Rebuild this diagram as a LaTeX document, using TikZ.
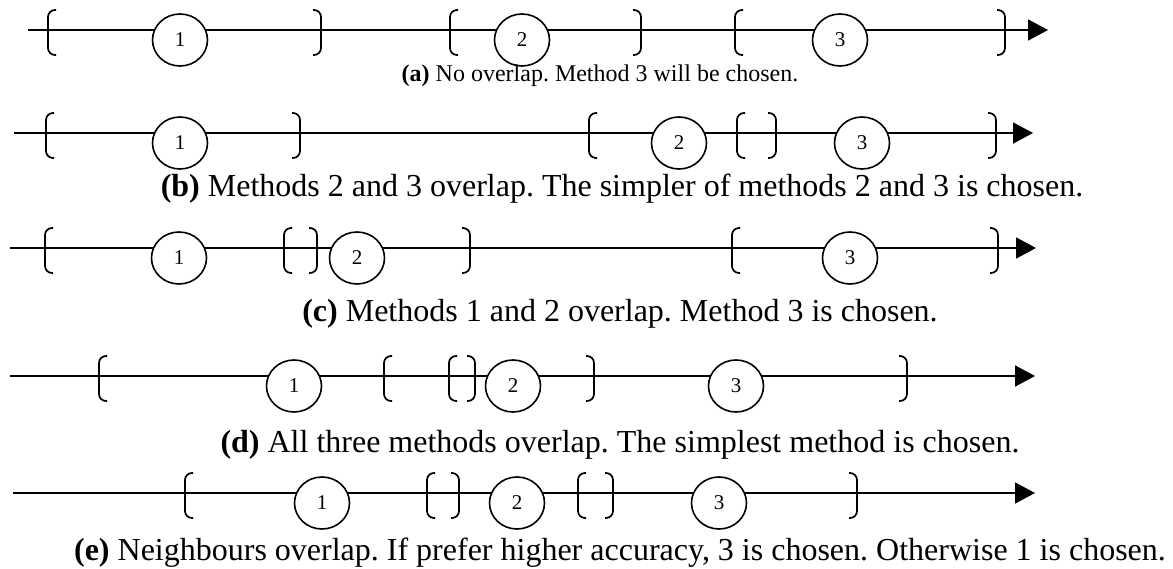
\documentclass[tikz,border=0pt]{standalone}
\usepackage{fontspec}
\setmainfont{Liberation Serif}
\usetikzlibrary{arrows.meta, shapes.geometric}
\frenchspacing

% rounded interval brackets
\tikzset{
	lb/.pic={\draw[bracket] (8,-20) -- (0,-20) -- (0,25) -- (8,25);},
	rb/.pic={\draw[bracket] (-8,-20) -- (0,-20) -- (0,25) -- (-8,25);}
}

\begin{document}
\begin{tikzpicture}[
		x=1pt, y=-1pt,
		axis/.style={line width=1.7pt, -{Triangle[length=20pt, width=21pt]}},
		bracket/.style={line width=1.7pt, rounded corners=7pt},
		method/.style={ellipse, draw, line width=1.6pt, fill=white,
			minimum width=55pt, minimum height=52pt, inner sep=0pt,
			font=\fontsize{21}{21}\selectfont},
		capt/.style={anchor=base, font=\fontsize{32}{38}\selectfont},
		capta/.style={anchor=base, font=\fontsize{24}{28}\selectfont}
		]
		\useasboundingbox (0,0) rectangle (1173,569);
		
		% (a)
		\coordinate (a0) at (28,30);
		\coordinate (a9) at (1048,30);
		\draw[axis] (a0) -- (a9);
		\pic at (48,30) {lb}; \pic at (321,30) {rb};
		\pic at (450,30) {lb}; \pic at (641,30) {rb};
		\pic at (735,30) {lb}; \pic at (1005,30) {rb};
		\node[method] (a1) at (180,40) {1};
		\node[method] (a2) at (522,40) {2};
		\node[method] (a3) at (840,40) {3};
		\node[capta] (capa) at (600,82)
		{\textbf{(a)} No overlap. Method 3 will be chosen.};
		
		% (b)
		\coordinate (b0) at (14,133);
		\coordinate (b9) at (1033,133);
		\draw[axis] (b0) -- (b9);
		\pic at (46,133) {lb}; \pic at (300,133) {rb};
		\pic at (589,133) {lb}; \pic at (737,133) {lb};
		\pic at (776,133) {rb}; \pic at (996,133) {rb};
		\node[method] (b1) at (180,143) {1};
		\node[method] (b2) at (679,143) {2};
		\node[method] (b3) at (862,143) {3};
		\node[capt] (capb) at (622,197)
		{\textbf{(b)} Methods 2 and 3 overlap. The simpler of methods 2 and 3 is chosen.};
		
		% (c)
		\coordinate (c0) at (10,248);
		\coordinate (c9) at (1036,248);
		\draw[axis] (c0) -- (c9);
		\pic at (45,248) {lb}; \pic at (284,248) {lb};
		\pic at (317,248) {rb}; \pic at (470,248) {rb};
		\pic at (732,248) {lb}; \pic at (998,248) {rb};
		\node[method] (c1) at (179,258) {1};
		\node[method] (c2) at (357,258) {2};
		\node[method] (c3) at (850,258) {3};
		\node[capt] (capc) at (620,322)
		{\textbf{(c)} Methods 1 and 2 overlap. Method 3 is chosen.};
		
		% (d)
		\coordinate (d0) at (10,376);
		\coordinate (d9) at (1035,376);
		\draw[axis] (d0) -- (d9);
		\pic at (99,376) {lb}; \pic at (384,376) {lb};
		\pic at (449,376) {lb}; \pic at (475,376) {rb};
		\pic at (594,376) {rb}; \pic at (907,376) {rb};
		\node[method] (d1) at (294,386) {1};
		\node[method] (d2) at (513,386) {2};
		\node[method] (d3) at (736,386) {3};
		\node[capt] (capd) at (620,452)
		{\textbf{(d)} All three methods overlap. The simplest method is chosen.};
		
		% (e)
		\coordinate (e0) at (13,493);
		\coordinate (e9) at (1035,493);
		\draw[axis] (e0) -- (e9);
		\pic at (185,493) {lb}; \pic at (427,493) {lb};
		\pic at (459,493) {rb}; \pic at (578,493) {lb};
		\pic at (613,493) {rb}; \pic at (857,493) {rb};
		\node[method] (e1) at (322,503) {1};
		\node[method] (e2) at (517,503) {2};
		\node[method] (e3) at (719,503) {3};
		\node[capt] (cape) at (620,560)
		{\textbf{(e)} Neighbours overlap. If prefer higher accuracy, 3 is chosen. Otherwise 1 is chosen.};
	\end{tikzpicture}
\end{document}
